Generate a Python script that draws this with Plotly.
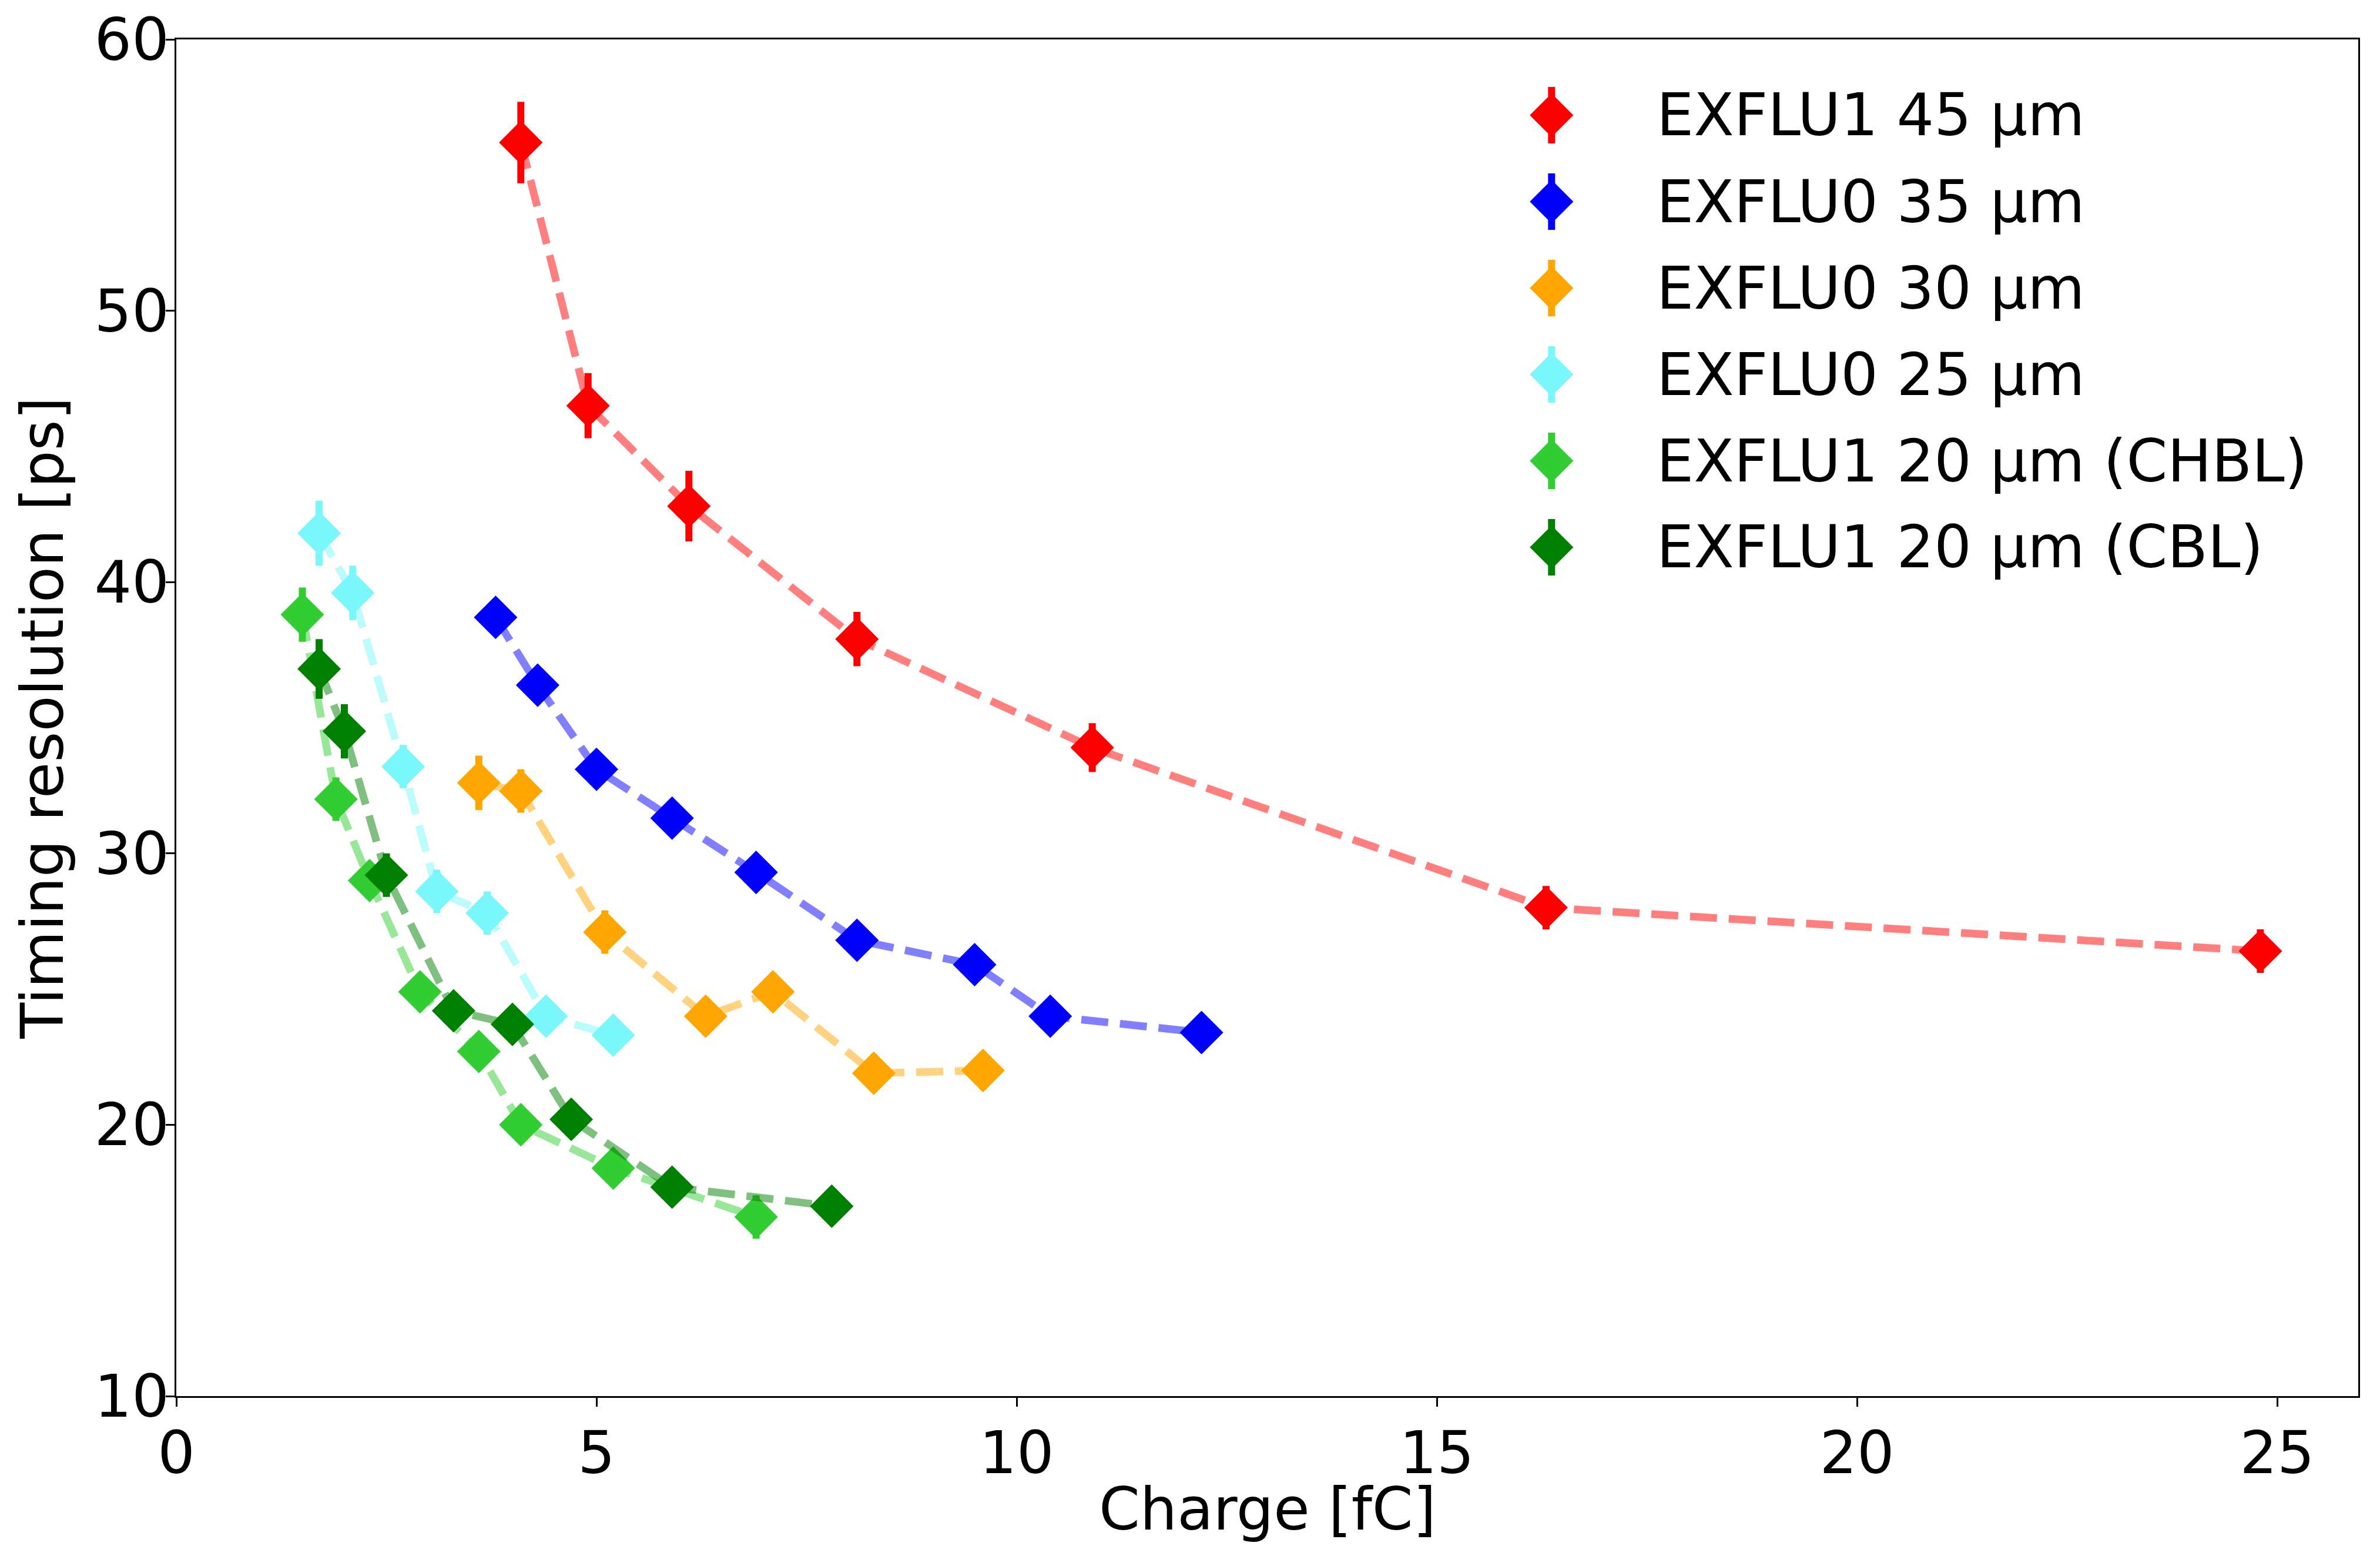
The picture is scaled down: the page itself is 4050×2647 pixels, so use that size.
import plotly.graph_objects as go

# ---------------- data ----------------
names = ["EXFLU1 45 μm", "EXFLU0 35 μm", "EXFLU0 30 μm", "EXFLU0 25 μm",
         "EXFLU1 20 μm (CHBL)", "EXFLU1 20 μm (CBL)"]

red_x = [4.1, 4.9, 6.1, 8.1, 10.9, 16.3, 24.8]
red_y = [56.2, 46.5, 42.8, 37.9, 33.9, 28.0, 26.4]
red_e = [1.5, 1.2, 1.3, 1.0, 0.9, 0.8, 0.8]

blue_x = [3.8, 4.3, 5.0, 5.9, 6.9, 8.1, 9.5, 10.4, 12.2]
blue_y = [38.7, 36.2, 33.1, 31.3, 29.3, 26.8, 25.9, 24.0, 23.4]
blue_e = [0.4, 0.4, 0.4, 0.4, 0.4, 0.4, 0.4, 0.4, 0.4]

orange_x = [3.6, 4.1, 5.1, 6.3, 7.1, 8.3, 9.6]
orange_y = [32.6, 32.3, 27.1, 24.0, 24.9, 21.9, 22.0]
orange_e = [1.0, 0.8, 0.8, 0.7, 0.7, 0.7, 0.7]

cyan_x = [1.7, 2.1, 2.7, 3.1, 3.7, 4.4, 5.2]
cyan_y = [41.8, 39.6, 33.2, 28.6, 27.8, 24.0, 23.3]
cyan_e = [1.2, 1.0, 0.8, 0.8, 0.8, 0.6, 0.6]

lime_x = [1.5, 1.9, 2.3, 2.9, 3.6, 4.1, 5.2, 6.9]
lime_y = [38.8, 32.0, 29.0, 24.9, 22.7, 20.0, 18.4, 16.6]
lime_e = [1.0, 0.8, 0.6, 0.6, 0.6, 0.6, 0.6, 0.8]

green_x = [1.7, 2.0, 2.5, 3.3, 4.0, 4.7, 5.9, 7.8]
green_y = [36.8, 34.5, 29.2, 24.2, 23.7, 20.2, 17.7, 17.0]
green_e = [1.1, 1.0, 0.8, 0.6, 0.6, 0.6, 0.6, 0.6]

xs = [red_x, blue_x, orange_x, cyan_x, lime_x, green_x]
ys = [red_y, blue_y, orange_y, cyan_y, lime_y, green_y]
es = [red_e, blue_e, orange_e, cyan_e, lime_e, green_e]

x_title = "Charge [fC]"
y_title = "Timing resolution [ps]"

# ---------------- style ----------------
colors = ["#ff0000", "#0000ff", "#ffa500", "#7af7fa", "#32cd32", "#008000"]
line_colors = ["rgba(255,0,0,0.5)", "rgba(0,0,255,0.5)", "rgba(255,165,0,0.5)",
               "rgba(122,247,250,0.5)", "rgba(50,205,50,0.5)", "rgba(0,128,0,0.5)"]

FONT = "DejaVu Sans"
W, H = 4050, 2647
ML, MR, MT, MB = 300, 37, 67, 272
plot_h = H - MT - MB
plot_bottom = H - MB

MSIZE = 57
ETHICK = 12
LW = 13
DASH = "46px,20px"

fig = go.Figure()

for i in range(len(names)):
    fig.add_trace(go.Scatter(
        x=xs[i], y=ys[i], mode="markers", name=names[i], showlegend=False,
        marker=dict(symbol="diamond", size=MSIZE, color=colors[i], line=dict(width=0)),
        error_y=dict(type="data", array=es[i], visible=True, color=colors[i],
                     thickness=ETHICK, width=0),
    ))
    fig.add_trace(go.Scatter(
        x=xs[i], y=ys[i], mode="lines", showlegend=False, hoverinfo="skip",
        line=dict(color=line_colors[i], width=LW, dash=DASH),
    ))

# ---------------- manual legend (helper axes in plot-area fractions) ----------------
leg_x = 0.6303
leg_text_x = 0.6778
leg_row0_px = 196
leg_step_px = 147
leg_err = 48 / plot_h
for i in range(len(names)):
    yy = (plot_bottom - (leg_row0_px + i * leg_step_px)) / plot_h
    fig.add_trace(go.Scatter(
        x=[leg_x], y=[yy], xaxis="x2", yaxis="y2", mode="markers", showlegend=False,
        hoverinfo="skip",
        marker=dict(symbol="diamond", size=MSIZE, color=colors[i], line=dict(width=0)),
        error_y=dict(type="constant", value=leg_err, visible=True, color=colors[i],
                     thickness=ETHICK, width=0),
    ))
    fig.add_annotation(x=leg_text_x, y=yy, xref="paper", yref="paper", text=names[i],
                       showarrow=False, xanchor="left", yanchor="middle",
                       font=dict(family=FONT, size=100, color="black"))

# x-axis title as an annotation below the tick labels
fig.add_annotation(x=0.5, y=-(2567 - plot_bottom) / plot_h, xref="paper", yref="paper",
                   text=x_title, showarrow=False, xanchor="center", yanchor="middle",
                   font=dict(family=FONT, size=100, color="black"))

axis_common = dict(
    showline=True, linecolor="black", linewidth=3.3, mirror=True,
    ticks="outside", ticklen=15, tickwidth=3.3, tickcolor="black",
    showgrid=False, zeroline=False, automargin=False,
    tickfont=dict(family=FONT, size=100, color="black"),
)

fig.update_layout(
    width=W, height=H, autosize=False,
    margin=dict(l=ML, r=MR, t=MT, b=MB, pad=0, autoexpand=False),
    paper_bgcolor="white", plot_bgcolor="white",
    font=dict(family=FONT, size=100, color="black"),
    xaxis=dict(range=[0, 25.965], tickvals=[0, 5, 10, 15, 20, 25],
               ticklabelstandoff=-7, **axis_common),
    yaxis=dict(range=[10, 60], tickvals=[10, 20, 30, 40, 50, 60],
               title=dict(text=y_title, font=dict(family=FONT, size=100), standoff=20),
               ticklabelstandoff=-26, **axis_common),
    xaxis2=dict(overlaying="x", anchor="y2", range=[0, 1], visible=False, fixedrange=True,
                automargin=False),
    yaxis2=dict(overlaying="y", anchor="x2", range=[0, 1], visible=False, fixedrange=True,
                automargin=False),
    showlegend=False,
)

fig.write_html("out.html", config={"displayModeBar": False},
               post_script="document.body.style.margin='0';document.body.style.overflow='hidden';")
